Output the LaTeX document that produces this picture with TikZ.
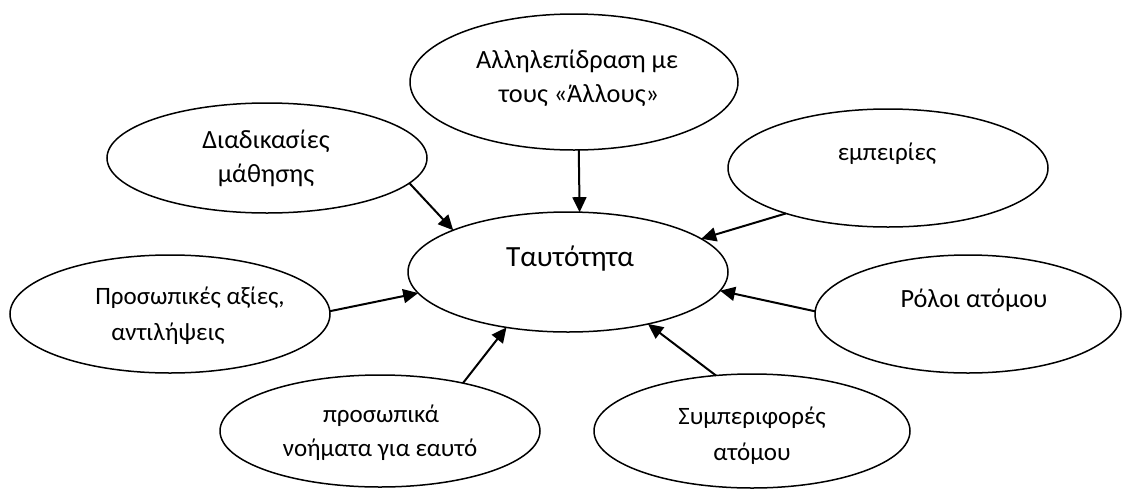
\documentclass[tikz,border=0pt]{standalone}
\usepackage{fontspec}
\setmainfont{Carlito}
\usetikzlibrary{arrows.meta,shapes.geometric}

\begin{document}
\begin{tikzpicture}[x=1pt,y=-1pt,
  bubble/.style={draw,ellipse,line width=1.5pt,inner sep=0pt,outer sep=0pt},
  lbl/.style={anchor=base,inner sep=0pt,font=\fontsize{25}{30}\selectfont},
  lblL/.style={lbl,font=\fontsize{26.3}{32}\selectfont},
  biglbl/.style={lbl,font=\fontsize{29.3}{36}\selectfont},
  arr/.style={line width=2pt,-{Triangle[length=15pt,width=14pt]}}]

\fill[white] (0,0) rectangle (1125,488);
\useasboundingbox (0,0) rectangle (1125,488);

% the eight ellipses
\node[bubble,minimum width=328pt,minimum height=136pt] (allo) at (574,82) {};
\node[bubble,minimum width=320pt,minimum height=110pt] (math) at (267,158) {};
\node[bubble,minimum width=320pt,minimum height=118pt] (emp)  at (888,168) {};
\node[bubble,minimum width=320pt,minimum height=120pt] (id)   at (568,272) {};
\node[bubble,minimum width=320pt,minimum height=118pt] (axies) at (170,314) {};
\node[bubble,minimum width=306pt,minimum height=118pt] (roles) at (968,314) {};
\node[bubble,minimum width=320pt,minimum height=112pt] (noim) at (380,431) {};
\node[bubble,minimum width=316pt,minimum height=114pt] (symp) at (752,431) {};

% labels
\node[lblL] (allo-a) at (577,68) {Αλληλεπίδραση με};
\node[lblL] (allo-b) at (579,102) {τους «Άλλους»};
\node[lblL] (math-a) at (266,148) {Διαδικασίες};
\node[lblL] (math-b) at (266,182) {μάθησης};
\node[lbl] (emp-a)  at (887,160) {εμπειρίες};
\node[biglbl] (id-a) at (570,266) {Ταυτότητα};
\node[lbl] (axies-a) at (190,304) {Προσωπικές αξίες,};
\node[lbl] (axies-b) at (168,340) {αντιλήψεις};
\node[lblL] (roles-a) at (974,307) {Ρόλοι ατόμου};
\node[lbl] (noim-a) at (381,422) {προσωπικά};
\node[lbl] (noim-b) at (380,456) {νοήματα για εαυτό};
\node[lbl] (symp-a) at (752,424) {Συμπεριφορές};
\node[lbl] (symp-b) at (752,460) {ατόμου};

% connectors into the centre
\draw[arr] (allo.-86)  -- (id.79.6);
\draw[arr] (math.-10.3) -- (id.160);
\draw[arr] (emp.-156.8) -- (id.14.85);
\draw[arr] (axies.1)   -- (id.188.4);
\draw[arr] (noim.30.1) -- (id.-138);
\draw[arr] (symp.123.9) -- (id.-33);
\draw[arr] (roles.179) -- (id.-7.75);
\end{tikzpicture}
\end{document}
